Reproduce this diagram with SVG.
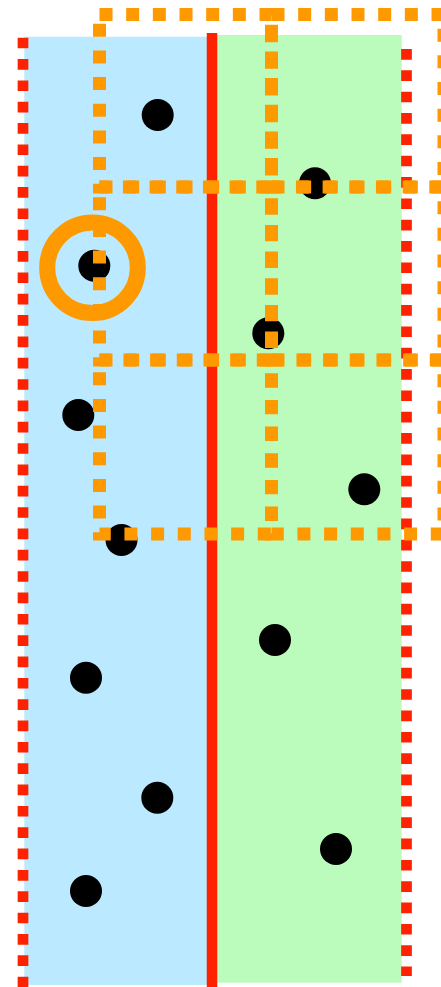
<svg xmlns="http://www.w3.org/2000/svg" width="441" height="987" viewBox="0 0 441 987">
  <style>
    .dot { fill: #000000; }
    .cell { fill: none; stroke: #FF9900; stroke-width: 13; stroke-dasharray: 13 13.67; }
    .reddash { fill: none; stroke: #FF2200; stroke-width: 10.7; stroke-dasharray: 10.67 10.67; }
  </style>
  <rect width="441" height="987" fill="#FFFFFF"/>
  <g id="regions">
    <rect id="blue-region" x="24.3" y="36.7" width="187" height="948.3" fill="#BBE9FF"/>
    <rect id="green-region" x="211" y="35" width="190.7" height="947.7" fill="#BBFBBB"/>
  </g>
  <g id="red-lines">
    <line x1="23" y1="37.7" x2="23" y2="987" class="reddash"/>
    <line x1="406.5" y1="49" x2="406.5" y2="976" class="reddash"/>
    <line x1="212" y1="33" x2="212" y2="987" stroke="#FF2200" stroke-width="10.5"/>
  </g>
  <g id="points">
    <circle class="dot" cx="157.7" cy="115" r="16"/>
    <circle class="dot" cx="315" cy="183.3" r="16"/>
    <circle class="dot" cx="94.3" cy="265.7" r="16"/>
    <circle class="dot" cx="268.3" cy="333.3" r="16"/>
    <circle class="dot" cx="78.3" cy="415" r="16"/>
    <circle class="dot" cx="364.3" cy="489.3" r="16"/>
    <circle class="dot" cx="121.5" cy="540" r="16"/>
    <circle class="dot" cx="275" cy="640" r="16"/>
    <circle class="dot" cx="86" cy="677.7" r="16"/>
    <circle class="dot" cx="157.3" cy="797.7" r="16"/>
    <circle class="dot" cx="336" cy="849" r="16"/>
    <circle class="dot" cx="86" cy="891" r="16"/>
  </g>
  <g id="highlight">
    <circle cx="92.5" cy="267.8" r="45.3" fill="none" stroke="#FF9900" stroke-width="16"/>
  </g>
  <g id="grid">
    <rect class="cell" x="99.5" y="14.5" width="172" height="172.5"/>
    <rect class="cell" x="271.5" y="14.5" width="172.5" height="172.5"/>
    <rect class="cell" x="99.5" y="187" width="172" height="173"/>
    <rect class="cell" x="271.5" y="187" width="172.5" height="173"/>
    <rect class="cell" x="99.5" y="360" width="172" height="174"/>
    <rect class="cell" x="271.5" y="360" width="172.5" height="174"/>
  </g>
</svg>
